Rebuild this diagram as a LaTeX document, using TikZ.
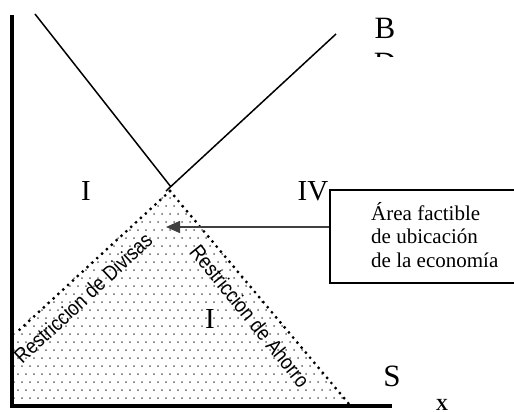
\documentclass[tikz,border=0pt]{standalone}
\usepackage{fontspec}
\setmainfont{Liberation Serif}
\setsansfont{Liberation Sans}
\newfontfamily\narrowsans[FakeStretch=0.87]{Liberation Sans}
\usetikzlibrary{arrows.meta}
\begin{document}
\begin{tikzpicture}[x=1pt,y=-1pt,
  axisline/.style={line width=3.5pt},
  vline/.style={line width=1.5pt},
  dotline/.style={line width=3.2pt, line cap=round, dash pattern=on 0pt off 6.6pt},
  romlab/.style={inner sep=0pt, font=\fontsize{29}{32}\selectfont},
  biglab/.style={inner sep=0pt, font=\fontsize{31}{34}\selectfont},
  restlab/.style={inner sep=0pt, font=\narrowsans\fontsize{21}{23}\selectfont},
  boxtxt/.style={inner sep=0pt, anchor=base west, font=\fontsize{21}{23.5}\selectfont},
  arrowline/.style={line width=1.5pt, draw=black!75, -{Triangle[length=14pt,width=12pt]}}
]
\useasboundingbox (0,0) rectangle (514,412);
\clip (0,0) rectangle (514,412);

% dotted fill of the feasible area
\begin{scope}
  \clip (12,334) -- (170,190) -- (349,405) -- (12,405) -- cycle;
  \foreach \r in {0,...,28} {
    \foreach \c in {0,...,44} {
      \fill[black!60] ({14+8*\c+4*mod(\r,2)}, {190+8*\r}) circle (1);
    }
  }
\end{scope}

% coordinates
\coordinate (ytop) at (12,15);
\coordinate (orig) at (12,406);
\coordinate (xend) at (392,406);
\coordinate (vl) at (35,14);
\coordinate (vx) at (171,187);
\coordinate (vr) at (336,34);
\coordinate (vb) at (166,191);
\coordinate (apex) at (170,191);
\coordinate (dl) at (16,333);
\coordinate (dr) at (349,404);
\coordinate (tip) at (166,227);

% dotted restrictions
\draw[dotline] (apex) -- (dl);
\draw[dotline] (apex) -- (dr);

% V lines
\draw[vline] (vl) -- (vx);
\draw[vline] (vr) -- (vb);

% axes
\draw[axisline] (ytop) -- (orig) -- (xend);

% labels
\node[biglab] (lB) at (385,28) {B};
\begin{scope}
  \clip (350,0) rectangle (420,57);
  \node[biglab] (lD) at (385,63) {D};
\end{scope}
\node[romlab] (lI1) at (86,191) {I};
\node[romlab] (lIV) at (313,191) {IV};
\node[romlab] (lI2) at (210,319) {I};
\node[biglab] (lS) at (392,376) {S};
\node[inner sep=0pt, anchor=north, font=\bfseries\fontsize{17}{20}\selectfont] (lX) at (442,399) {X};

\node[restlab, rotate=43] (rd) at (83,298) {Restriccion de Divisas};
\node[restlab, rotate=-51] (ra) at (250,316) {Restriccion de Ahorro};

% box
\node[draw, line width=1.5pt, minimum width=200pt, minimum height=93pt, anchor=north west] (box) at (329,189) {};
\node[boxtxt] (t1) at (371,220) {Área factible};
\node[boxtxt] (t2) at (371,243.5) {de ubicación};
\node[boxtxt] (t3) at (371,267) {de la economía};

\draw[arrowline] (box.west |- tip) -- (tip);
\end{tikzpicture}
\end{document}
